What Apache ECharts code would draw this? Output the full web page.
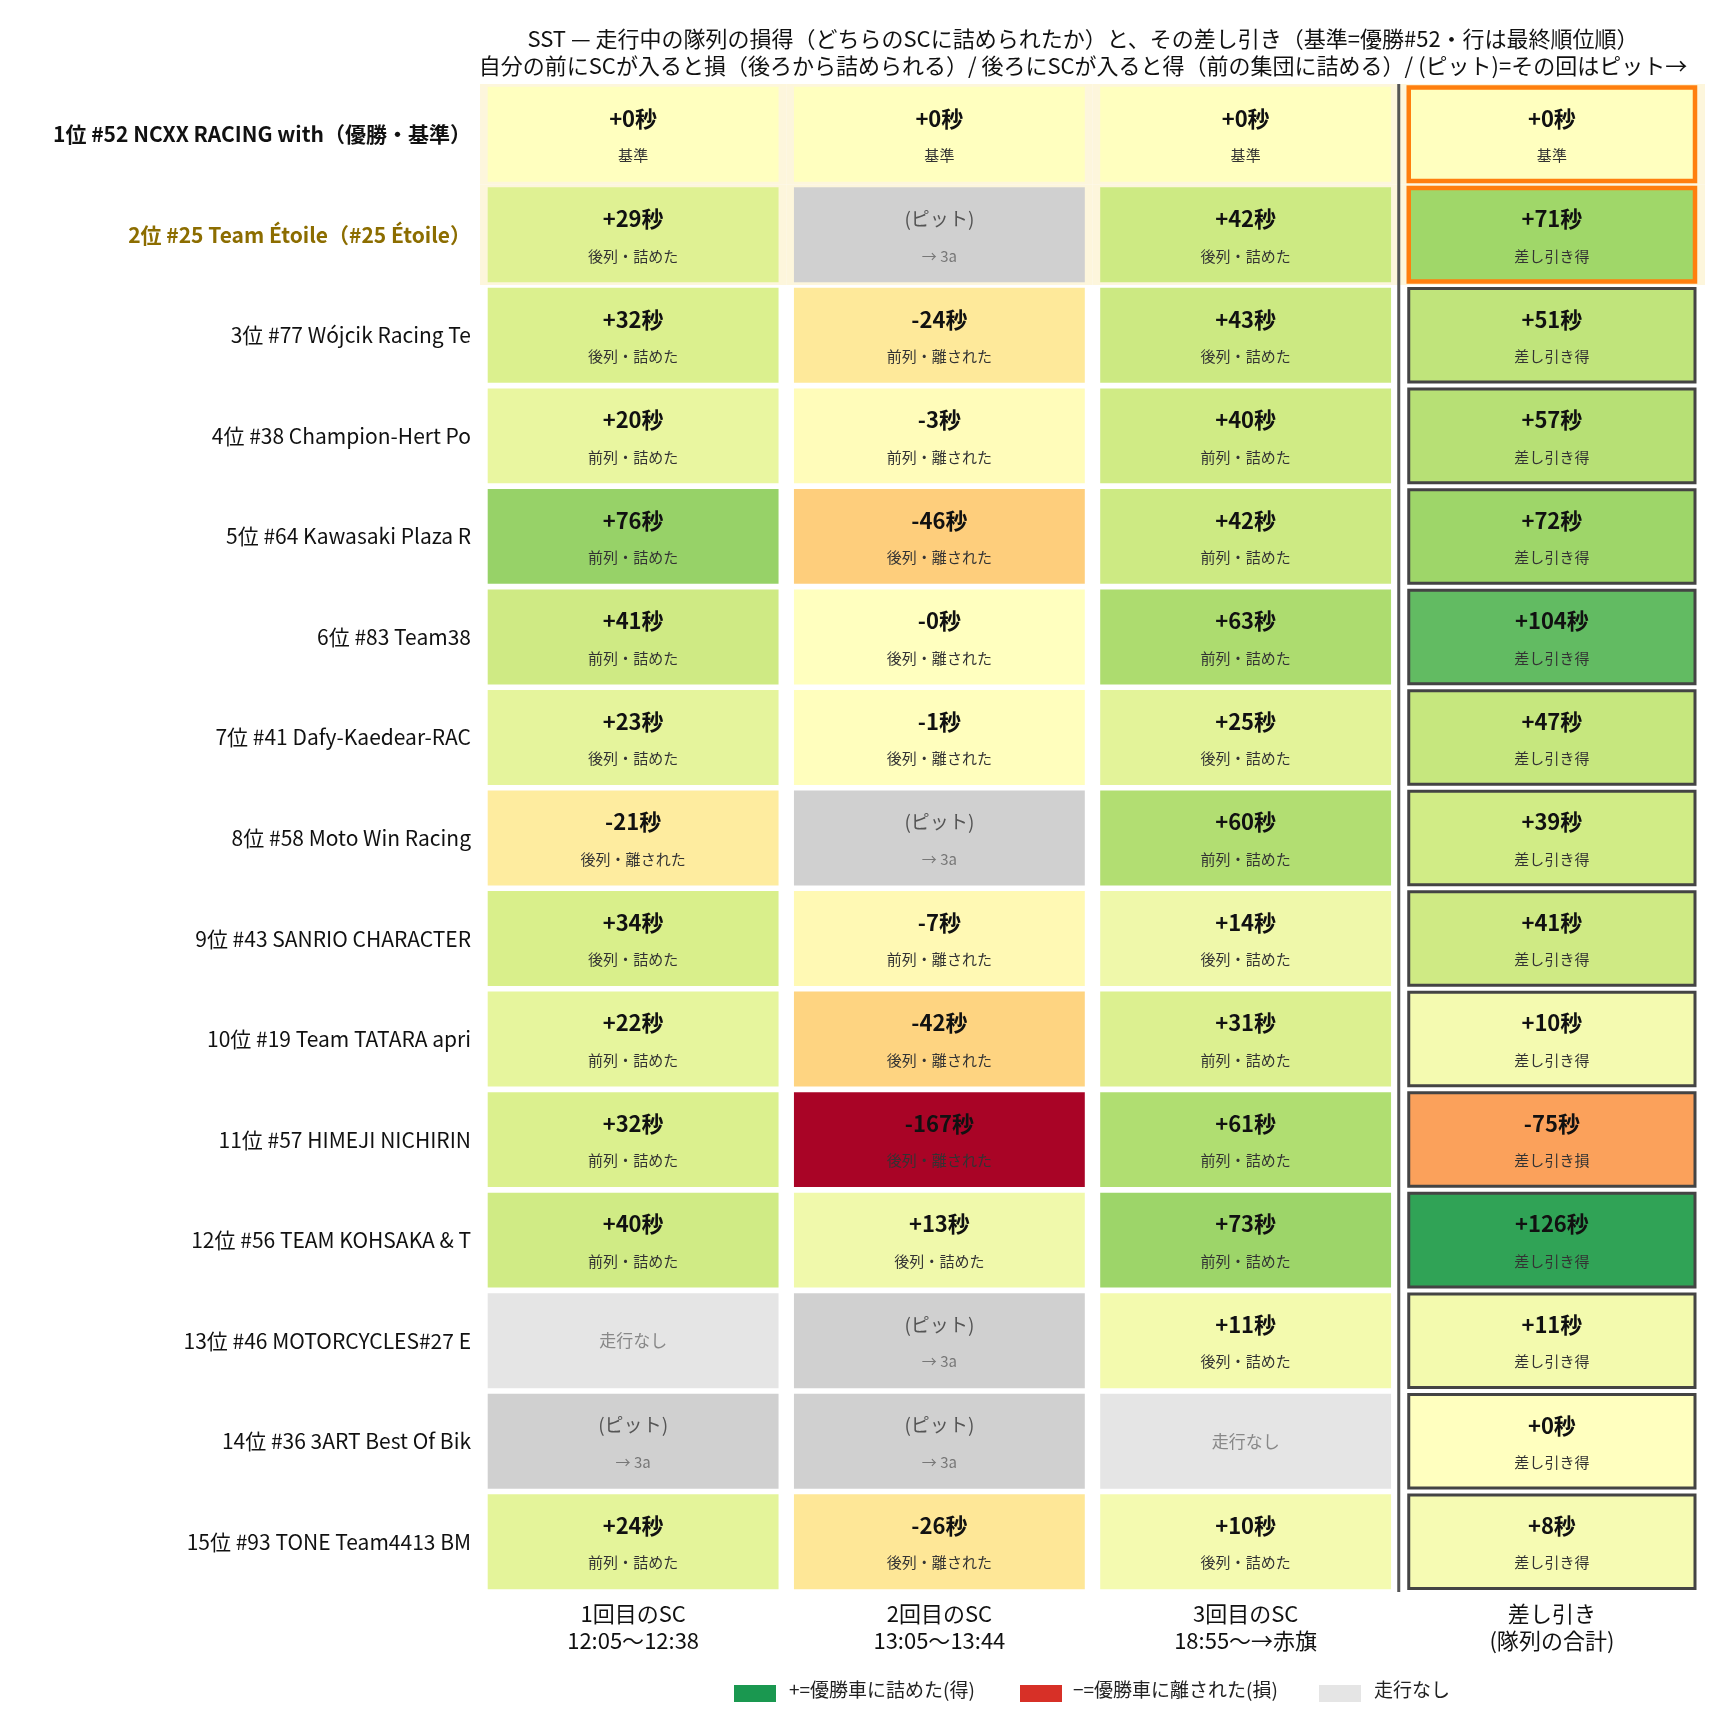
<!DOCTYPE html>
<html><head><meta charset="utf-8">
<script src="https://cdn.jsdelivr.net/npm/echarts@6/dist/echarts.min.js"></script>
<style>html,body{margin:0;padding:0;background:#fff}#c{width:1728px;height:1728px}</style>
</head><body><div id="c"></div>
<script>
const FONT = '"Noto Sans CJK JP","Noto Sans",sans-serif';
const rowLabels = ['1位 #52 NCXX RACING with（優勝・基準）','2位 #25 Team Étoile（#25 Étoile）','3位 #77 Wójcik Racing Te','4位 #38 Champion-Hert Po','5位 #64 Kawasaki Plaza R','6位 #83 Team38','7位 #41 Dafy-Kaedear-RAC','8位 #58 Moto Win Racing','9位 #43 SANRIO CHARACTER','10位 #19 Team TATARA apri','11位 #57 HIMEJI NICHIRIN','12位 #56 TEAM KOHSAKA & T','13位 #46 MOTORCYCLES#27 E','14位 #36 3ART Best Of Bik','15位 #93 TONE Team4413 BM'];
const colLabels = ['1回目のSC\n12:05〜12:38','2回目のSC\n13:05〜13:44','3回目のSC\n18:55〜→赤旗','差し引き\n(隊列の合計)'];
// 'P' = pit, 'N' = no running
const sc1 = [0,29,32,20,76,41,23,-21,34,22,32,40,'N','P',24];
const sc1Note = ['基準','後列・詰めた','後列・詰めた','前列・詰めた','前列・詰めた','前列・詰めた','後列・詰めた','後列・離された','後列・詰めた','前列・詰めた','前列・詰めた','前列・詰めた','','','前列・詰めた'];
const sc2 = [0,'P',-24,-3,-46,-0,-1,'P',-7,-42,-167,13,'P','P',-26];
const sc2Note = ['基準','','前列・離された','前列・離された','後列・離された','後列・離された','後列・離された','','前列・離された','後列・離された','後列・離された','後列・詰めた','','','後列・離された'];
const sc3 = [0,42,43,40,42,63,25,60,14,31,61,73,11,'N',10];
const sc3Note = ['基準','後列・詰めた','後列・詰めた','前列・詰めた','前列・詰めた','前列・詰めた','後列・詰めた','前列・詰めた','後列・詰めた','前列・詰めた','前列・詰めた','前列・詰めた','後列・詰めた','','後列・詰めた'];
const total = [0,71,51,57,72,104,47,39,41,10,-75,126,11,0,8];
const totalNote = ['基準','差し引き得','差し引き得','差し引き得','差し引き得','差し引き得','差し引き得','差し引き得','差し引き得','差し引き得','差し引き損','差し引き得','差し引き得','差し引き得','差し引き得'];

const stops = ['#a50026','#d73027','#f46d43','#fdae61','#fee08b','#ffffbf','#d9ef8b','#a6d96a','#66bd63','#1a9850','#006837'];
function hex(h){return [1,3,5].map(i=>parseInt(h.substr(i,2),16));}
function colorOf(v){
  let t=(v+170)/340; t=Math.max(0,Math.min(1,t));
  const p=t*10, i=Math.min(9,Math.floor(p)), f=p-i;
  const a=hex(stops[i]), b=hex(stops[i+1]);
  return 'rgb('+a.map((x,k)=>Math.round(x+(b[k]-x)*f)).join(',')+')';
}
const cols=[[sc1,sc1Note],[sc2,sc2Note],[sc3,sc3Note],[total,totalNote]];
const data=[];
cols.forEach((c,ci)=>c[0].forEach((v,ri)=>data.push([ci,ri,v,c[1][ri]])));

function fmt(v){ if(Object.is(v,-0)) return '-0秒'; return (v>=0?'+':'')+v+'秒'; }

const chart=echarts.init(document.getElementById('c'));
chart.setOption({
  animation:false,
  title:{text:'SST — 走行中の隊列の損得（どちらのSCに詰められたか）と、その差し引き（基準=優勝#52・行は最終順位順）\n自分の前にSCが入ると損（後ろから詰められる）/ 後ろにSCが入ると得（前の集団に詰める）/ (ピット)=その回はピット→',
    left:1078,top:20,textAlign:'center',textStyle:{fontFamily:FONT,fontSize:22,fontWeight:'normal',color:'#111',lineHeight:27}},
  grid:{left:480,right:23,top:84,bottom:136},
  xAxis:{type:'category',data:colLabels,position:'bottom',axisLine:{show:false},axisTick:{show:false},
    axisLabel:{fontFamily:FONT,fontSize:22,color:'#111',lineHeight:27,margin:8}},
  yAxis:{type:'category',data:rowLabels,inverse:true,axisLine:{show:false},axisTick:{show:false},
    axisLabel:{fontFamily:FONT,fontSize:21,margin:9,color:'#111',fontWeight:'normal',
      formatter:(v,i)=>i<2?'{b'+i+'|'+v+'}':v,
      rich:{b0:{fontFamily:FONT,fontSize:21,fontWeight:'bold',color:'#111'},b1:{fontFamily:FONT,fontSize:21,fontWeight:'bold',color:'#8c6d00'}}}},
  graphic:[
    {type:'rect',left:734,top:1685,shape:{width:42,height:17},style:{fill:'#1a9850'}},
    {type:'text',left:789,top:1680,style:{text:'+=優勝車に詰めた(得)',font:'19px '+FONT,fill:'#222'}},
    {type:'rect',left:1020,top:1685,shape:{width:42,height:17},style:{fill:'#d73027'}},
    {type:'text',left:1073,top:1680,style:{text:'−=優勝車に離された(損)',font:'19px '+FONT,fill:'#222'}},
    {type:'rect',left:1319,top:1685,shape:{width:42,height:17},style:{fill:'#e5e5e5'}},
    {type:'text',left:1374,top:1680,style:{text:'走行なし',font:'19px '+FONT,fill:'#222'}}
  ],
  series:[{
    type:'custom',
    data:data,
    renderItem:(params,api)=>{
      const ci=api.value(0), ri=api.value(1);
      const raw=data[params.dataIndex][2], note=data[params.dataIndex][3];
      const c=api.coord([ci,ri]); const s=api.size([1,1]);
      const w=s[0], h=s[1];
      const children=[];
      if(ri<2) children.push({type:'rect',shape:{x:c[0]-w/2,y:c[1]-h/2,width:w,height:h},style:{fill:'#fdf6dc'},z2:0});
      let fill, t1, t2, c1='#111', c2='#333', f1='bold 22px '+FONT;
      if(raw==='P'){fill='#d0d0d0';t1='(ピット)';t2='→ 3a';c1='#555';c2='#777';f1='19px '+FONT;}
      else if(raw==='N'){fill='#e5e5e5';t1='走行なし';t2='';c1='#888';f1='17px '+FONT;}
      else {fill=colorOf(raw);t1=fmt(raw);t2=note;}
      const isTot=ci===3;
      const ix=isTot?10:7.7, iy=isTot?3.5:2.8;
      let stroke=null, lw=0;
      if(isTot){stroke=ri<2?'#ff7f0e':'#444'; lw=ri<2?4.5:3;}
      children.push({type:'rect',shape:{x:c[0]-w/2+ix,y:c[1]-h/2+iy,width:w-2*ix,height:h-2*iy},
        style:{fill:fill,stroke:stroke,lineWidth:lw},z2:1});
      if(raw==='N'){
        children.push({type:'text',style:{text:t1,x:c[0],y:c[1],align:'center',verticalAlign:'middle',font:f1,fill:c1},z2:2});
      } else {
        children.push({type:'text',style:{text:t1,x:c[0],y:c[1]-16,align:'center',verticalAlign:'middle',font:f1,fill:c1},z2:2});
        children.push({type:'text',style:{text:t2,x:c[0],y:c[1]+21,align:'center',verticalAlign:'middle',font:'15px '+FONT,fill:c2},z2:2});
      }
      if(ci===3 && ri===0){
        const top=c[1]-h/2, bot=top+h*15;
        children.push({type:'line',shape:{x1:c[0]-w/2,y1:top,x2:c[0]-w/2,y2:bot},style:{stroke:'#555',lineWidth:3},z2:3});
      }
      return {type:'group',children};
    }
  }]
});
</script></body></html>
